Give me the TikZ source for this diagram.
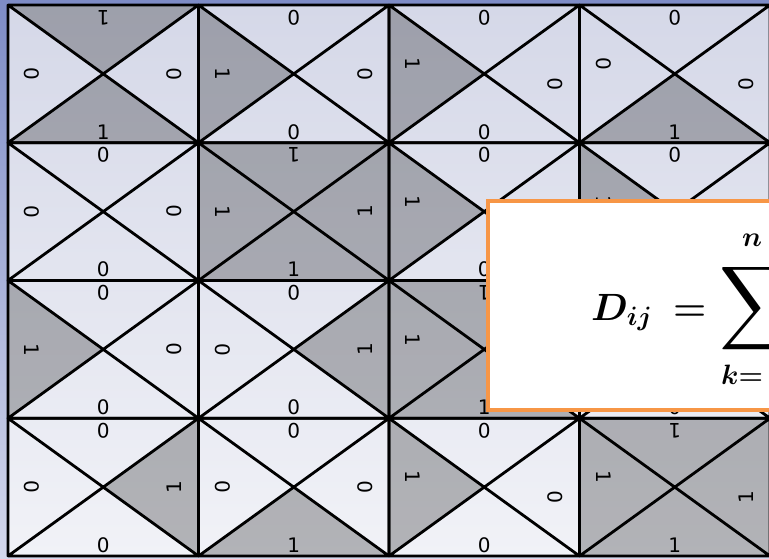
\RequirePackage{fix-cm}
\documentclass[tikz,border=0pt]{standalone}
\usepackage{fontspec}
\setsansfont{DejaVu Sans}
\usepackage{amsmath}
\usepackage{xcolor}
\usepackage{tikz}
\usetikzlibrary{positioning}

\definecolor{bgtop}{RGB}{126,140,198}
\definecolor{bgbottom}{RGB}{212,216,236}
\definecolor{celltop}{RGB}{213,216,232}
\definecolor{cellbottom}{RGB}{241,242,247}
\definecolor{boxorange}{HTML}{F79646}

\begin{document}
\begin{tikzpicture}[
    x=1pt, y=-1pt,
    cell/.style={line width=2.8pt, line cap=round, line join=round},
    dark/.style={fill=black, fill opacity=0.26},
    bit/.style={font=\sffamily\fontsize{20}{20}\selectfont, inner sep=0pt},
    formula/.style={font=\fontsize{38}{38}\selectfont\boldmath, inner sep=0pt},
    bigop/.style={inner sep=0pt},
    limit/.style={font=\fontsize{28}{28}\selectfont\boldmath, inner sep=0pt}
]
\useasboundingbox (0,0) rectangle (769,558);
\clip (0,0) rectangle (769,558);

% background
\shade[top color=bgtop, bottom color=bgbottom] (0,0) rectangle (769,558);
\shade[top color=celltop, bottom color=cellbottom] (8,5) rectangle (772,556);

\def\cw{190.5}
\def\ch{137.75}

% squares: row/col/top/right/bottom/left (x = under the box)
\foreach \r/\c/\vt/\vr/\vb/\vl in {
    1/1/1/0/1/0, 1/2/0/0/0/1, 1/3/0/0/0/1, 1/4/0/0/1/0,
    2/1/0/0/0/0, 2/2/1/1/1/1, 2/3/0/x/0/1, 2/4/0/x/x/1,
    3/1/0/0/0/1, 3/2/0/1/0/0, 3/3/1/x/1/1, 3/4/x/x/0/x,
    4/1/0/1/0/0, 4/2/0/0/1/0, 4/3/0/0/0/1, 4/4/1/1/1/1}{
    \pgfmathsetmacro\xa{8+(\c-1)*\cw}
    \pgfmathsetmacro\xb{\xa+\cw}
    \pgfmathsetmacro\xm{\xa+\cw/2}
    \pgfmathsetmacro\ya{5+(\r-1)*\ch}
    \pgfmathsetmacro\yb{\ya+\ch}
    \pgfmathsetmacro\ym{\ya+\ch/2}
    \pgfmathsetmacro\dy{\c>2 ? 10 : 0}
    \if\vt1 \fill[dark] (\xa,\ya) -- (\xb,\ya) -- (\xm,\ym) -- cycle; \fi
    \if\vr1 \fill[dark] (\xb,\ya) -- (\xb,\yb) -- (\xm,\ym) -- cycle; \fi
    \if\vb1 \fill[dark] (\xa,\yb) -- (\xb,\yb) -- (\xm,\ym) -- cycle; \fi
    \if\vl1 \fill[dark] (\xa,\ya) -- (\xa,\yb) -- (\xm,\ym) -- cycle; \fi
    \draw[cell] (\xa,\ya) rectangle (\xb,\yb)
        (\xa,\ya) -- (\xb,\yb) (\xb,\ya) -- (\xa,\yb);
    \if\vt x\else \node[bit, rotate=180] (t-\r-\c) at (\xm,\ya+12.5) {\vt};\fi
    \if\vr x\else \node[bit, rotate=90] (r-\r-\c) at (\xb-24,\ym+\dy) {\vr};\fi
    \if\vb x\else \node[bit] (b-\r-\c) at (\xm,\yb-11) {\vb};\fi
    \if\vl x\else \node[bit, rotate=-90] (l-\r-\c) at (\xa+24,\ym-\dy) {\vl};\fi
}

% formula box
\node[draw=boxorange, fill=white, line width=4pt, minimum width=330pt,
    minimum height=209pt, anchor=north west, inner sep=0pt] (box) at (486,199) {};
\node[formula, anchor=base west] (dij) at (591,320) {$D_{ij}$};
\node[formula, anchor=base west] (eq) at (673,320) {$=$};
\node[bigop, anchor=west] (sigma) at (719,309) {\resizebox*{!}{94pt}{$\displaystyle\sum$}};
\node[limit, anchor=base] (upper) at (752,246) {$n$};
\node[limit, anchor=base west] (lower) at (721,384) {$k{=}$};

\end{tikzpicture}
\end{document}
